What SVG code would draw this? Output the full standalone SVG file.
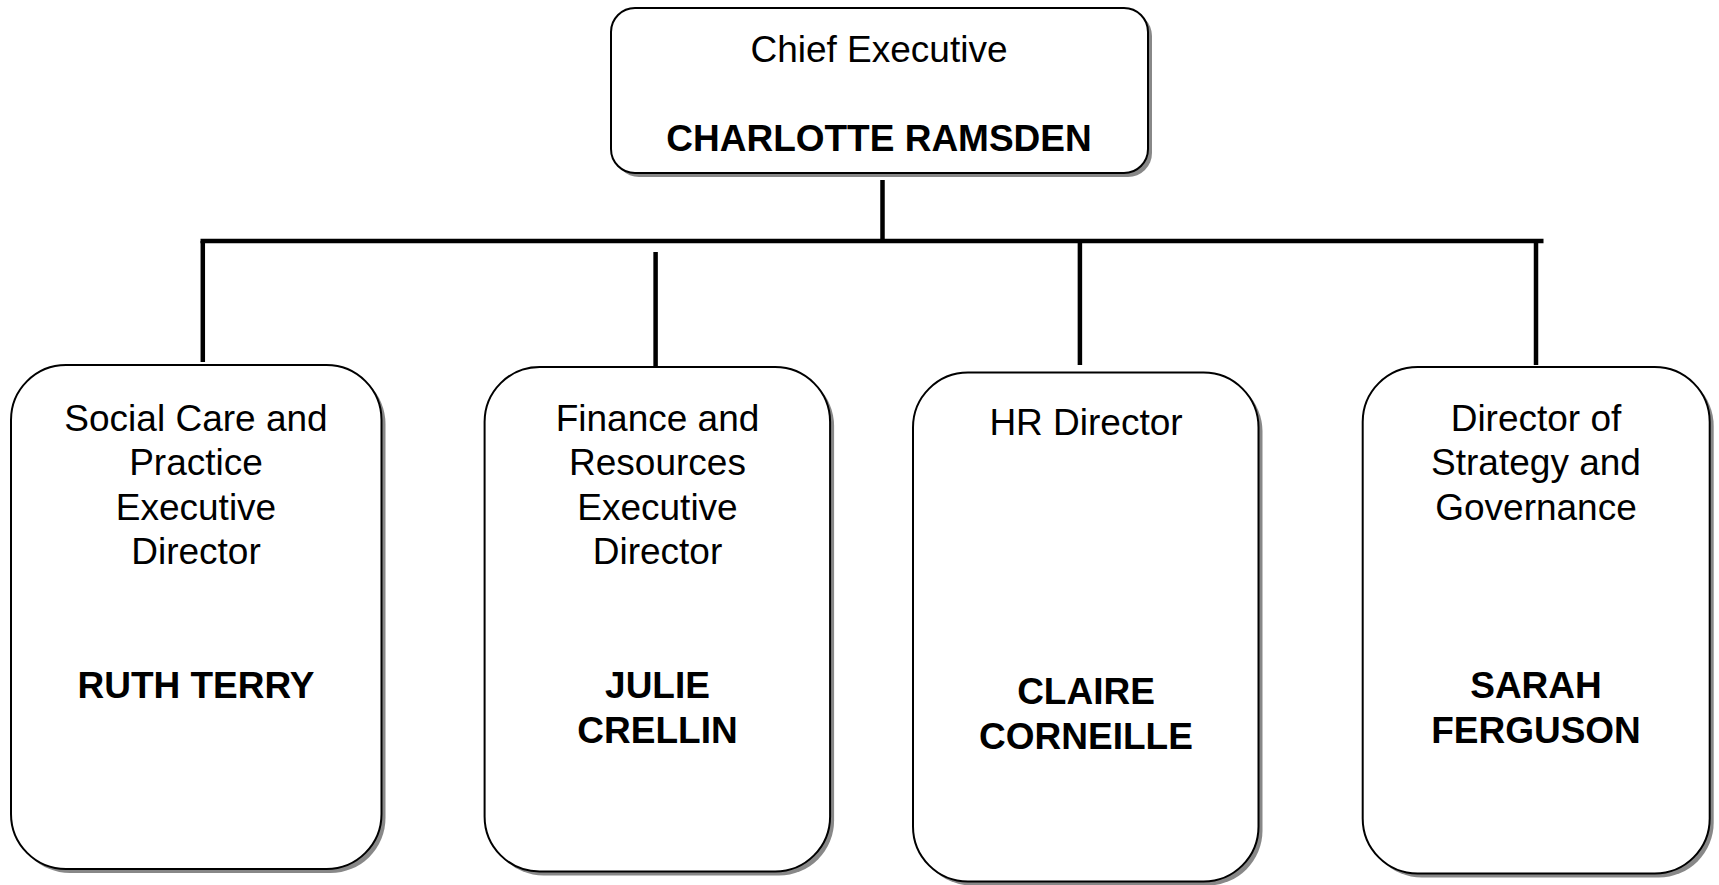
<svg xmlns="http://www.w3.org/2000/svg" width="1719" height="885" viewBox="0 0 1719 885">
<style>
.shadow{fill:#888888;stroke:none}
.box{fill:#ffffff;stroke:#000000;stroke-width:2}
.t{font-family:"Liberation Sans",Arial,sans-serif;font-size:37px;text-anchor:middle;fill:#000000}
.b{font-weight:bold}
.conn{stroke:#000000;stroke-width:4.5;fill:none;stroke-linecap:butt}
</style>
<rect width="1719" height="885" fill="#ffffff"/>
<g id="connectors">
<line class="conn" x1="882.5" y1="180" x2="882.5" y2="241"/>
<line class="conn" x1="200.5" y1="241" x2="1543.5" y2="241"/>
<line class="conn" x1="202.8" y1="241" x2="202.8" y2="362"/>
<line class="conn" x1="655.6" y1="252" x2="655.6" y2="373"/>
<line class="conn" x1="1079.9" y1="241" x2="1079.9" y2="365"/>
<line class="conn" x1="1536" y1="241" x2="1536" y2="365"/>
</g>
<g id="chief">
<rect class="shadow" x="615" y="12" width="537" height="165" rx="24"/>
<rect class="box" x="611" y="8" width="537" height="165" rx="24"/>
<text class="t" x="879" y="62">Chief Executive</text>
<text class="t b" x="879" y="151">CHARLOTTE RAMSDEN</text>
</g>
<g id="social-care">
<rect class="shadow" x="15" y="369" width="370.5" height="504" rx="55"/>
<rect class="box" x="11" y="365" width="370.5" height="504" rx="55"/>
<text class="t" x="196" y="431">Social Care and</text>
<text class="t" x="196" y="475">Practice</text>
<text class="t" x="196" y="520">Executive</text>
<text class="t" x="196" y="564">Director</text>
<text class="t b" x="196" y="698">RUTH TERRY</text>
</g>
<g id="finance">
<rect class="shadow" x="488.6" y="371" width="345.5" height="504.5" rx="55"/>
<rect class="box" x="484.6" y="367" width="345.5" height="504.5" rx="55"/>
<text class="t" x="657.5" y="431">Finance and</text>
<text class="t" x="657.5" y="475">Resources</text>
<text class="t" x="657.5" y="520">Executive</text>
<text class="t" x="657.5" y="564">Director</text>
<text class="t b" x="657.5" y="698">JULIE</text>
<text class="t b" x="657.5" y="743">CRELLIN</text>
</g>
<g id="hr">
<rect class="shadow" x="917" y="376.5" width="345.5" height="509" rx="55"/>
<rect class="box" x="913" y="372.5" width="345.5" height="509" rx="55"/>
<text class="t" x="1086" y="435">HR Director</text>
<text class="t b" x="1086" y="704">CLAIRE</text>
<text class="t b" x="1086" y="749">CORNEILLE</text>
</g>
<g id="strategy">
<rect class="shadow" x="1366.7" y="371" width="347" height="506.5" rx="55"/>
<rect class="box" x="1362.7" y="367" width="347" height="506.5" rx="55"/>
<text class="t" x="1536" y="431">Director of</text>
<text class="t" x="1536" y="475">Strategy and</text>
<text class="t" x="1536" y="520">Governance</text>
<text class="t b" x="1536" y="698">SARAH</text>
<text class="t b" x="1536" y="743">FERGUSON</text>
</g>
</svg>
